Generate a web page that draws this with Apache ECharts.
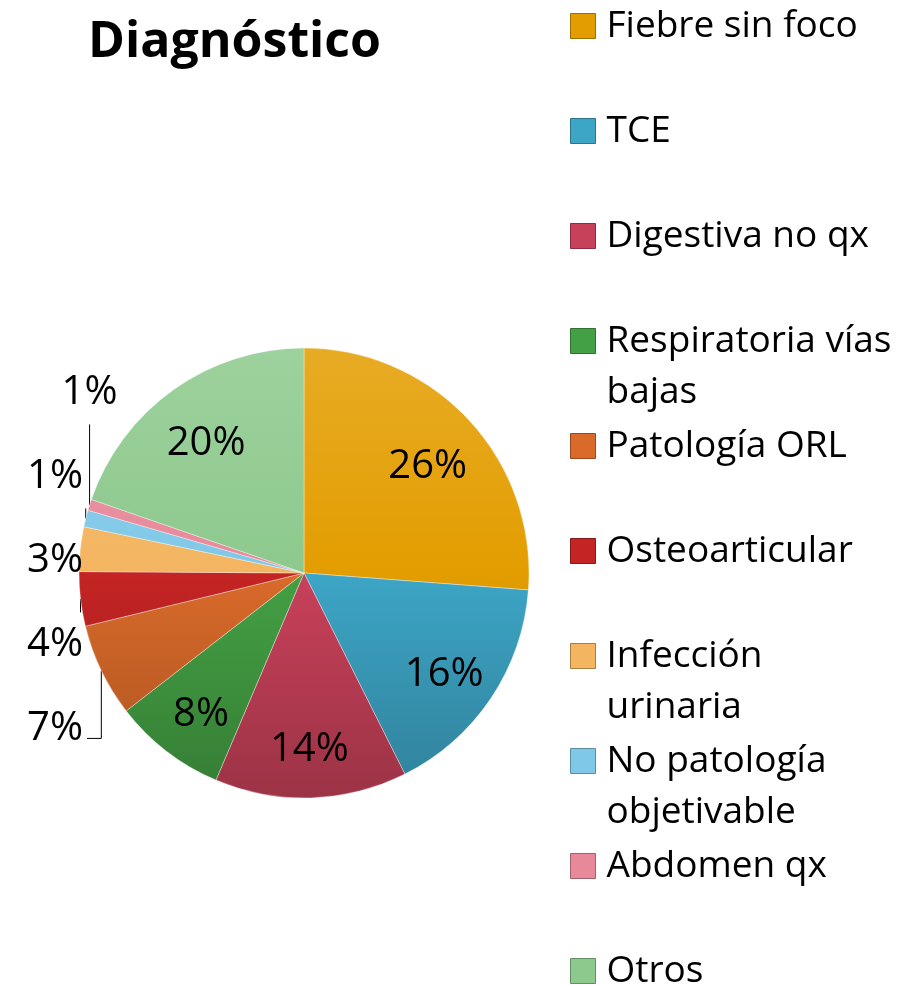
<!DOCTYPE html>
<html>
<head>
<meta charset="utf-8">
<script src="https://cdn.jsdelivr.net/npm/echarts@6/dist/echarts.min.js"></script>
<style>html,body{margin:0;padding:0;background:#fff}#c{width:916px;height:985px}</style>
</head>
<body>
<div id="c"></div>
<script>
// ---- data ----
const title = 'Diagnóstico';
const categories = ['Fiebre sin foco', 'TCE', 'Digestiva no qx', 'Respiratoria vías\nbajas', 'Patología ORL',
  'Osteoarticular', 'Infección\nurinaria', 'No patología\nobjetivable', 'Abdomen qx', 'Otros'];
const values = [26.2, 16.4, 13.8, 8.1, 6.7, 3.9, 3.2, 1.2, 0.8, 19.7];
const colors = ['#E39D00', '#3DA5C6', '#C8415A', '#44A044', '#D96A2A', '#C42424', '#F3B560', '#80C8E8', '#E8899A', '#8DC98D'];

// ---- layout ----
const CX = 304, CY = 573, R = 225;
const FONT = '"Open Sans", "DejaVu Sans", sans-serif';
const OUTSIDE_LIMIT = 7.5;      // slices below this share go outside
const LABEL_RIGHT = 83;         // right edge of outside labels
const LABEL_SPACING = 84;       // vertical spacing of outside labels
const LABEL_SHIFT = -8;         // shift of the outside label column
const LABEL_HALF_H = 20;

function shade(hex, f) {
  const n = parseInt(hex.slice(1), 16);
  let r = (n >> 16) & 255, g = (n >> 8) & 255, b = n & 255;
  const t = f < 0 ? 0 : 255, p = Math.abs(f);
  r = Math.round((t - r) * p + r); g = Math.round((t - g) * p + g); b = Math.round((t - b) * p + b);
  return 'rgb(' + r + ',' + g + ',' + b + ')';
}
function grad(hex) {
  return {
    type: 'linear', global: true, x: 0, y: CY - R, x2: 0, y2: CY + R,
    colorStops: [{ offset: 0, color: shade(hex, 0.14) }, { offset: 0.5, color: hex }, { offset: 1, color: shade(hex, -0.22) }]
  };
}

// slice edge points (mid-angle) for the outside labels, from the values
const total = values.reduce((a, b) => a + b, 0);
const edge = {};
let acc = 0;
values.forEach((v, i) => {
  const mid = (acc + v / 2) / total * Math.PI * 2;
  acc += v;
  edge[i] = [CX + R * Math.sin(mid), CY - R * Math.cos(mid)];
});
// spread the outside labels vertically around their mean
const outIdx = values.map((v, i) => i).filter(i => values[i] < OUTSIDE_LIMIT)
  .sort((a, b) => edge[a][1] - edge[b][1]);
const meanY = outIdx.reduce((s, i) => s + edge[i][1], 0) / outIdx.length + LABEL_SHIFT;
const labelY = {};
outIdx.forEach((i, k) => { labelY[i] = meanY + (k - (outIdx.length - 1) / 2) * LABEL_SPACING; });

const data = categories.map((name, i) => {
  const item = { name: name, value: values[i], itemStyle: { color: grad(colors[i]) } };
  if (values[i] < OUTSIDE_LIMIT) {
    item.label = { position: 'outside', overflow: 'none' };
    item.labelLine = { show: true };
  }
  return item;
});

const legends = categories.map((name, i) => {
  const multi = name.indexOf('\n') >= 0;
  return {
    orient: 'vertical',
    left: 570,
    top: 26 + 105 * i - (multi ? 76.5 : 25.5),
    padding: 0,
    itemWidth: 25,
    itemHeight: 25,
    icon: 'rect',
    selectedMode: false,
    formatter: n => (n.indexOf('\n') >= 0 ? '\n' + n : n),
    data: [{ name: name, itemStyle: { color: colors[i], borderColor: shade(colors[i], -0.3), borderWidth: 1 } }],
    textStyle: {
      fontFamily: FONT, fontSize: 37, color: '#000', lineHeight: 51,
      padding: [0, 0, 0, 6]
    }
  };
});

const INNER_FACTOR = 0.75;

const chart = echarts.init(document.getElementById('c'), null, { renderer: 'canvas' });
chart.setOption({
  animation: false,
  title: {
    text: title, left: 88, top: 18, padding: 0,
    textStyle: { fontFamily: FONT, fontWeight: 'bold', fontSize: 50, color: '#000' }
  },
  legend: legends,
  series: [{
    type: 'pie',
    center: [CX, CY],
    radius: [0, R],
    startAngle: 90,
    clockwise: true,
    percentPrecision: 0,
    avoidLabelOverlap: false,
    itemStyle: { borderColor: 'rgba(255,255,255,0.35)', borderWidth: 1 },
    label: {
      show: true, position: 'inside', formatter: '{d}%',
      fontFamily: FONT, fontSize: 40, color: '#000'
    },
    labelLine: { show: false, length: 1, length2: 1, lineStyle: { color: '#000', width: 1 } },
    labelLayout: function (p) {
      const i = p.dataIndex;
      if (values[i] < OUTSIDE_LIMIT) {
        const ex = edge[i][0], ey = edge[i][1], ly = labelY[i];
        let pts, x = LABEL_RIGHT, align = 'right';
        if (ex - LABEL_RIGHT > 10) {
          const yy = ly + (ly > ey ? 10 : -10);
          pts = [[ex, ey], [ex, yy], [LABEL_RIGHT + 4, yy]];
        } else if (Math.abs(ly - ey) > LABEL_HALF_H + 8) {
          const end = ly > ey ? ly - LABEL_HALF_H - 12 : ly + LABEL_HALF_H + 12;
          pts = [[ex, ey], [ex, end], [ex, end]];
          if (ey - ly > 3 * LABEL_HALF_H + 20) { x = ex; align = 'center'; }
        } else {
          pts = [[ex, ey], [ex, ey], [ex, ey]];
        }
        return { x: x, y: ly, align: align, verticalAlign: 'middle', labelLinePoints: pts };
      }
      const lx = p.labelRect.x + p.labelRect.width / 2;
      const ly = p.labelRect.y + p.labelRect.height / 2;
      const k = INNER_FACTOR * R / Math.hypot(lx - CX, ly - CY) - 1;
      return { dx: (lx - CX) * k, dy: (ly - CY) * k + 8 };
    },
    data: data
  }]
});
</script>
</body>
</html>
